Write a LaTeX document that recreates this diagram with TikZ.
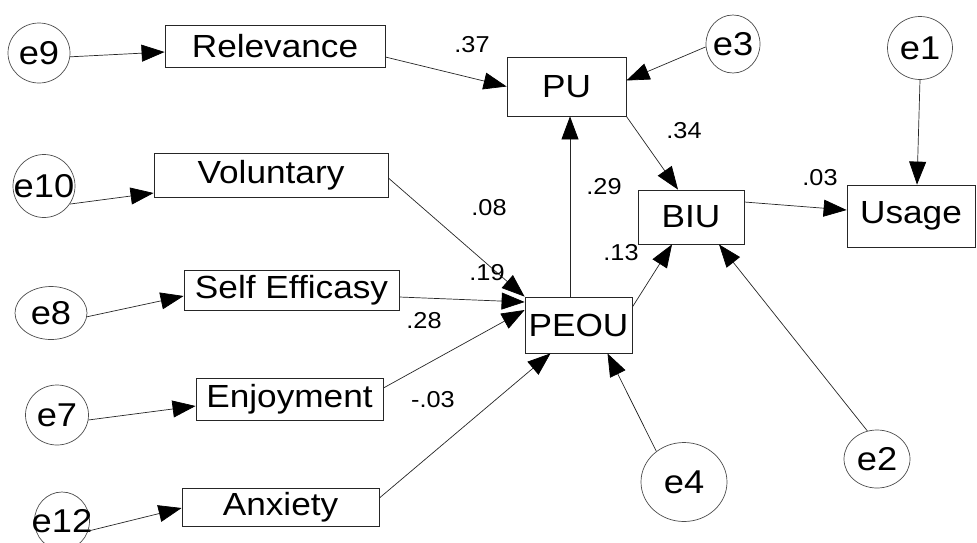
\documentclass[tikz,border=0pt]{standalone}
\usepackage{fontspec}
\setmainfont{Liberation Sans}[FakeStretch=1.1]
\usetikzlibrary{arrows.meta,shapes.geometric}
\begin{document}
\begin{tikzpicture}[x=1pt,y=-1pt,
  var/.style={draw=black!85,line width=0.8pt,rectangle,inner sep=0pt,font=\fontsize{32}{36}\selectfont},
  err/.style={draw=black!70,line width=0.7pt,ellipse,inner sep=0pt,font=\fontsize{33}{36}\selectfont},
  lbl/.style={font=\fontsize{23}{26}\selectfont,inner sep=0pt},
  conn/.style={draw=black!85,line width=0.7pt,-{Triangle[length=23pt,width=17pt,color=black,fill=black]}}]
\useasboundingbox (0,0) rectangle (977,542);
% observed variables
\node[var,minimum width=220pt,minimum height=42pt] (Relevance) at (275,46) {Relevance};
\node[var,minimum width=234pt,minimum height=44pt] (Voluntary) at (271,175) {Voluntary};
\node[var,minimum width=215pt,minimum height=40pt] (SelfEff) at (291.5,290) {Self Efficasy};
\node[var,minimum width=187pt,minimum height=42pt] (Enjoy) at (289.5,399) {Enjoyment};
\node[var,minimum width=197pt,minimum height=38pt] (Anxiety) at (280.5,507) {Anxiety};
\node[var,minimum width=119pt,minimum height=59pt] (PU) at (566.5,86.5) {PU};
\node[var,minimum width=106pt,minimum height=54pt] (BIU) at (691,217) {BIU};
\node[var,minimum width=107pt,minimum height=56pt] (PEOU) at (578.5,325) {PEOU};
\node[var,minimum width=128pt,minimum height=62pt] (Usage) at (911,216) {Usage};
% error terms
\node[err,minimum width=62pt,minimum height=60pt] (e9) at (39,53) {\makebox[0pt]{e9}};
\node[err,minimum width=62pt,minimum height=63pt] (e10) at (44,186) {\makebox[0pt]{e10}};
\node[err,minimum width=72pt,minimum height=53pt] (e8) at (51,313) {\makebox[0pt]{e8}};
\node[err,minimum width=63pt,minimum height=60pt] (e7) at (57,415) {\makebox[0pt]{e7}};
\node[err,minimum width=55pt,minimum height=58pt] (e12) at (62,521) {\makebox[0pt]{e12}};
\node[err,minimum width=54pt,minimum height=58pt] (e3) at (733,44) {\makebox[0pt]{e3}};
\node[err,minimum width=65pt,minimum height=63pt] (e1) at (920,48) {\makebox[0pt]{e1}};
\node[err,minimum width=86pt,minimum height=79pt] (e4) at (684,482) {\makebox[0pt]{e4}};
\node[err,minimum width=66pt,minimum height=58pt] (e2) at (877,459) {\makebox[0pt]{e2}};
% connectors
\draw[conn] (e9.-7) -- ([yshift=-6pt]Relevance.west);
\draw[conn] (e10.-35) -- ([yshift=-18pt]Voluntary.west);
\draw[conn] (e8.-6) -- ([yshift=-6pt]SelfEff.west);
\draw[conn] (e7.-9) -- ([yshift=-7pt]Enjoy.west);
\draw[conn] (e12.-21) -- ([yshift=-1pt]Anxiety.west);
\draw[conn] ([yshift=-11pt]Relevance.east) -- (PU.west);
\draw[conn] (e3.186) -- ([yshift=6pt]PU.east);
\draw[conn] (e1.south) -- ([xshift=6pt]Usage.north);
\draw[conn] (PU.south east) -- ([xshift=-13pt]BIU.north);
\draw[conn] ([yshift=15pt]BIU.east) -- ([yshift=6pt]Usage.west);
\draw[conn] ([xshift=-8.5pt]PEOU.north) -- ([xshift=3.5pt]PU.south);
\draw[conn] ([yshift=18pt]PEOU.east) -- ([xshift=-19pt]BIU.south);
\draw[conn] (e2.109) -- ([xshift=28pt]BIU.south);
\draw[conn] (e4.132) -- ([xshift=29pt]PEOU.south);
\draw[conn] ([yshift=-3pt]Voluntary.east) -- (PEOU.north west);
\draw[conn] ([yshift=-7pt]SelfEff.east) -- ([yshift=23pt]PEOU.west);
\draw[conn] ([yshift=11pt]Enjoy.east) -- ([yshift=15pt]PEOU.west);
\draw[conn] ([yshift=9pt]Anxiety.east) -- ([xshift=-28pt]PEOU.south);
% coefficient labels
\node[lbl] (l37) at (472,45) {.37};
\node[lbl] (l34) at (684,131) {.34};
\node[lbl] (l29) at (604,187) {.29};
\node[lbl] (l03) at (820,178) {.03};
\node[lbl] (l08) at (489,208) {.08};
\node[lbl] (l19) at (487,273) {.19};
\node[lbl] (l28) at (424,321) {.28};
\node[lbl] (l13) at (621,253) {.13};
\node[lbl] (lm03) at (433,400) {-.03};
\end{tikzpicture}
\end{document}
